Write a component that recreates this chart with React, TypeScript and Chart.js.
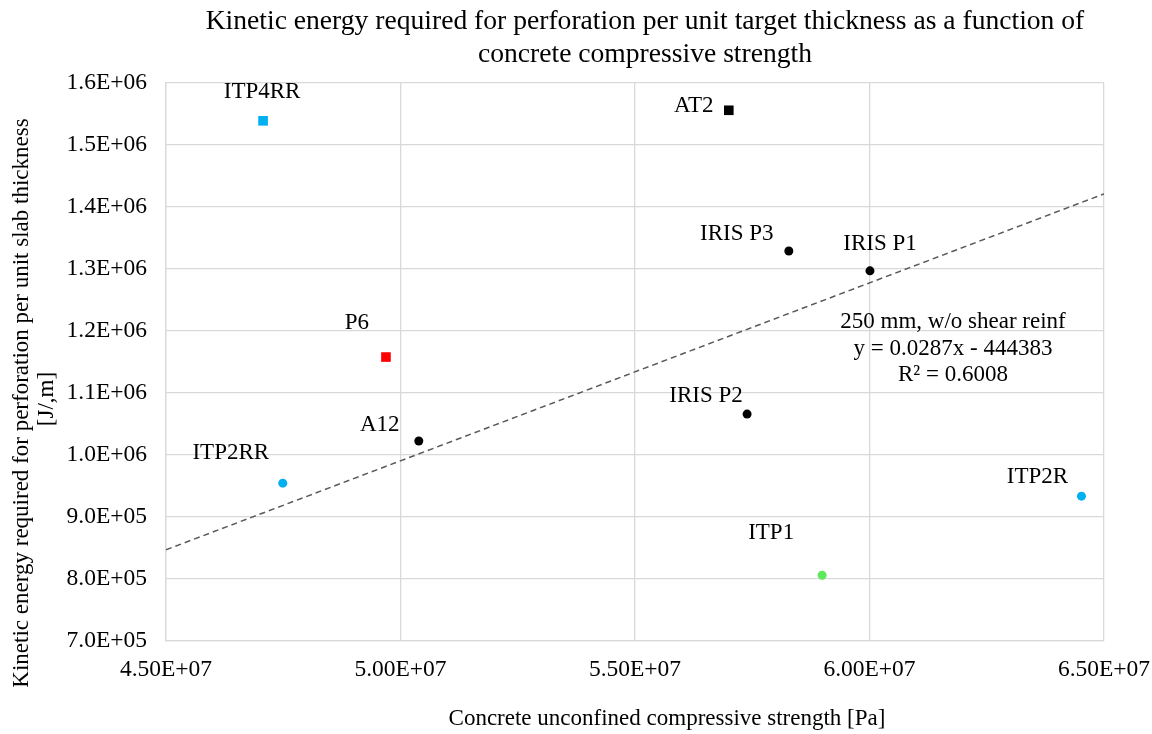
import React, { useEffect, useRef } from "react";
import { Chart, registerables } from "chart.js";

Chart.register(...registerables);

// ---- data ----
const pointNames = ["ITP4RR", "AT2", "IRIS P3", "IRIS P1", "IRIS P2", "P6", "A12", "ITP2RR", "ITP2R", "ITP1"];
const strengthPa = [4.707e7, 5.7e7, 5.828e7, 6.001e7, 5.739e7, 4.969e7, 5.039e7, 4.749e7, 6.452e7, 5.899e7];
const energyPerThickness = [1.539e6, 1.556e6, 1.329e6, 1.297e6, 1.066e6, 1.158e6, 1.0225e6, 9.546e5, 9.336e5, 8.06e5];

const titleLines = [
  "Kinetic energy required for perforation per unit target thickness as a function of",
  "concrete compressive strength",
];
const xAxisTitle = "Concrete unconfined compressive strength [Pa]";
const yAxisTitleLines = ["Kinetic energy required for perforation per unit slab thickness", "[J/,m]"];

const trendSlope = 0.0287;
const trendIntercept = -444383;
const trendLabelLines = ["250 mm, w/o shear reinf", "y = 0.0287x - 444383", "R\u00B2 = 0.6008"];

const xMin = 4.5e7, xMax = 6.5e7, xStep = 5e6;
const yMin = 7e5, yMax = 1.6e6, yStep = 1e5;

// ---- styles ----
const CYAN = "#00B0F0";
const pointColors = ["#00B0F0", "#000000", "#000000", "#000000", "#000000", "#FF0000", "#000000", CYAN, CYAN, "#5EE85E"];
const pointShapes = ["rect", "rect", "circle", "circle", "circle", "rect", "circle", "circle", "circle", "circle"];
const labelOffsets: Record<string, [number, number]> = {
  ITP4RR: [-1, -29],
  AT2: [-35, -4],
  "IRIS P3": [-52, -17],
  "IRIS P1": [10, -27],
  "IRIS P2": [-41, -18],
  P6: [-29, -34],
  A12: [-39, -16],
  ITP2RR: [-52, -30],
  ITP2R: [-44, -19],
  ITP1: [-51, -42],
};
const FONT = "'Liberation Serif', 'Times New Roman', serif";

function fmtExp(v: number, digits: number) {
  const s = v.toExponential(digits);
  const [m, e] = s.split("e");
  const sign = e[0] === "-" ? "-" : "+";
  const num = e.replace(/[+-]/, "").padStart(2, "0");
  return `${m}E${sign}${num}`;
}

const textPlugin = {
  id: "textPlugin",
  afterDraw(chart: any) {
    const ctx = chart.ctx;
    const xs = chart.scales.x;
    const ys = chart.scales.y;
    ctx.save();
    ctx.fillStyle = "#000";
    ctx.textAlign = "center";
    ctx.textBaseline = "middle";
    // main title
    ctx.font = `27.6px ${FONT}`;
    ctx.fillText(titleLines[0], 645, 22);
    ctx.fillText(titleLines[1], 645, 55);
    // x axis title
    ctx.font = `23px ${FONT}`;
    ctx.fillText(xAxisTitle, 667, 719);
    // y axis title
    ctx.save();
    ctx.translate(22, 403);
    ctx.rotate(-Math.PI / 2);
    ctx.fillText(yAxisTitleLines[0], 0, 0);
    ctx.restore();
    ctx.save();
    ctx.translate(47, 399);
    ctx.rotate(-Math.PI / 2);
    ctx.fillText(yAxisTitleLines[1], 0, 0);
    ctx.restore();
    // point labels
    ctx.font = `23px ${FONT}`;
    pointNames.forEach((n, i) => {
      const px = xs.getPixelForValue(strengthPa[i]);
      const py = ys.getPixelForValue(energyPerThickness[i]);
      const [dx, dy] = labelOffsets[n];
      ctx.fillText(n, px + dx, py + dy);
    });
    // trendline label
    ctx.fillText(trendLabelLines[0], 953, 322);
    ctx.fillText(trendLabelLines[1], 953, 349);
    ctx.fillText(trendLabelLines[2], 953, 375);
    ctx.restore();
  },
};

export default function App() {
  const ref = useRef<HTMLCanvasElement>(null);
  useEffect(() => {
    if (!ref.current) return;
    const pts = strengthPa.map((x, i) => ({ x, y: energyPerThickness[i] }));
    const trend = [
      { x: xMin, y: trendSlope * xMin + trendIntercept },
      { x: xMax, y: trendSlope * xMax + trendIntercept },
    ];
    const chart = new Chart(ref.current, {
      type: "scatter",
      data: {
        datasets: [
          {
            type: "line",
            label: "trend",
            data: trend,
            borderColor: "#595959",
            borderWidth: 1.5,
            borderDash: [6, 4],
            pointRadius: 0,
            fill: false,
          } as any,
          {
            label: "points",
            data: pts,
            pointStyle: pointShapes as any,
            pointRadius: pointShapes.map((s) => (s === "rect" ? 6.8 : 4.5)),
            backgroundColor: pointColors,
            borderColor: pointColors,
            borderWidth: 0,
          },
        ],
      },
      options: {
        animation: false,
        responsive: true,
        maintainAspectRatio: false,
        layout: { padding: { top: 83, left: 0, right: 48, bottom: 0 } },
        plugins: { legend: { display: false }, tooltip: { enabled: false }, title: { display: false } },
        scales: {
          x: {
            type: "linear",
            min: xMin,
            max: xMax,
            afterFit: (s: any) => {
              s.height = 93;
              s.paddingLeft = 0;
              s.paddingRight = 0;
            },
            afterBuildTicks: (s: any) => {
              const t = [];
              for (let v = xMin; v <= xMax + 1; v += xStep) t.push({ value: v });
              s.ticks = t;
            },
            ticks: {
              color: "#000",
              font: { family: FONT, size: 23.5 },
              padding: 15,
              maxRotation: 0,
              callback: (v: any) => fmtExp(Number(v), 2),
            },
            grid: { color: "#D9D9D9", lineWidth: 1.3, drawTicks: false },
            border: { color: "#D9D9D9", width: 1.3 },
          },
          y: {
            type: "linear",
            min: yMin,
            max: yMax,
            afterFit: (s: any) => {
              s.width = 166;
              s.paddingTop = 0;
              s.paddingBottom = 0;
            },
            afterBuildTicks: (s: any) => {
              const t = [];
              for (let v = yMin; v <= yMax + 1; v += yStep) t.push({ value: v });
              s.ticks = t;
            },
            ticks: {
              color: "#000",
              font: { family: FONT, size: 23.5 },
              padding: 19,
              callback: (v: any) => fmtExp(Number(v), 1),
            },
            grid: { color: "#D9D9D9", lineWidth: 1.3, drawTicks: false },
            border: { color: "#D9D9D9", width: 1.3 },
          },
        },
      },
      plugins: [textPlugin],
    });
    return () => chart.destroy();
  }, []);
  return (
    <div style={{ position: "absolute", left: 0, top: 0, width: 1152, height: 734, background: "#fff" }}>
      <canvas ref={ref} />
    </div>
  );
}
